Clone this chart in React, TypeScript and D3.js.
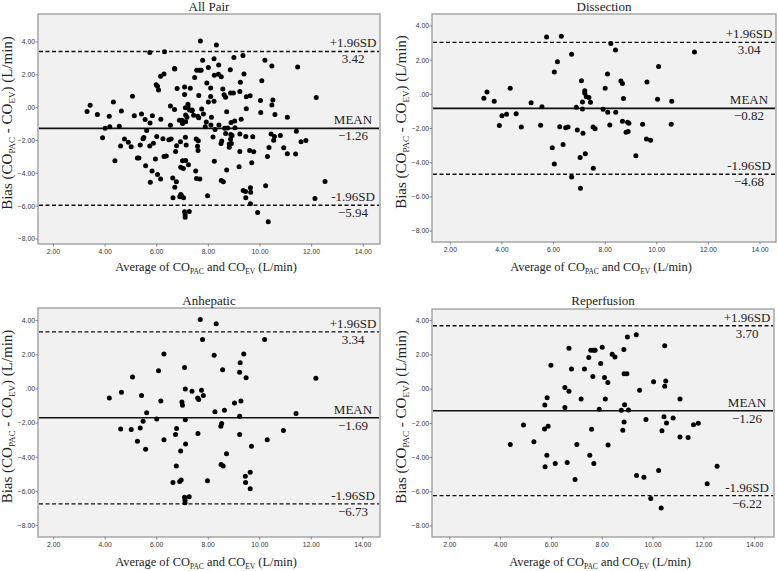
import React from 'react';
import * as d3 from 'd3';

// ---- Data (average CO, bias) ----
const dissection: [number, number][] = [
  [3.30, -0.23], [3.42, 0.14], [3.70, -0.41], [3.90, -1.83], [4.00, -1.25], [4.18, -1.17],
  [4.32, 0.35], [4.55, -1.13], [4.75, -1.91], [5.13, -0.49], [5.50, -1.81], [5.55, -0.72],
  [5.73, 3.35], [5.95, -3.13], [6.03, 1.30], [6.03, -4.07], [6.15, 1.91], [6.24, -1.89],
  [6.30, 3.40], [6.37, -2.94], [6.47, -1.95], [6.56, -1.91], [6.70, 2.35], [6.70, -4.84],
  [6.88, -0.76], [6.92, -2.08], [7.03, -3.70], [7.04, -5.49], [7.08, 0.80], [7.12, -0.45],
  [7.12, -0.86], [7.14, -2.28], [7.21, 0.21], [7.21, 0.06], [7.23, -3.48], [7.27, -0.14],
  [7.37, -0.19], [7.43, -0.47], [7.53, -1.91], [7.54, -4.32], [7.61, -2.02], [7.92, -0.88],
  [8.00, 0.35], [8.09, 1.19], [8.10, -1.05], [8.18, -1.79], [8.22, 2.98], [8.40, 2.59],
  [8.41, -1.05], [8.61, 0.78], [8.67, 0.64], [8.67, -1.58], [8.71, -0.25], [8.81, -2.22],
  [8.87, -1.63], [8.89, -2.18], [8.92, -1.69], [9.19, -3.60], [9.45, -1.75], [9.62, 0.72],
  [9.60, -2.61], [9.76, -2.68], [10.03, -0.29], [10.07, 1.63], [10.58, -0.41], [10.56, -1.75],
  [11.46, 2.47],
];

const anhepatic: [number, number][] = [
  [4.16, -0.53], [4.63, -0.20], [4.60, -2.34], [5.01, -2.38], [5.06, 0.70], [5.25, -3.06],
  [5.36, -2.28], [5.41, -0.39], [5.47, -1.89], [5.57, -3.53], [5.61, -1.39], [6.00, -1.76],
  [6.07, 1.07], [6.16, -0.70], [6.28, 2.05], [6.28, -2.97], [6.63, -5.48], [6.73, -2.67],
  [6.77, -2.32], [6.76, -4.51], [6.89, -5.42], [6.93, -3.63], [6.95, -5.33], [6.98, -0.76],
  [7.00, -0.96], [7.08, 1.25], [7.11, 0.00], [7.11, -1.80], [7.12, -3.22], [7.08, -6.34],
  [7.10, -6.52], [7.10, -6.67], [7.26, -6.32], [7.37, -0.14], [7.59, -0.53], [7.63, -0.62],
  [7.60, -2.61], [7.69, 4.06], [7.74, -0.08], [7.78, 2.89], [7.81, -0.39], [7.97, -5.37],
  [8.23, 1.97], [8.26, -1.33], [8.31, 3.82], [8.49, -2.19], [8.52, -2.03], [8.50, -4.43],
  [8.56, 1.13], [8.58, -4.51], [8.63, -1.25], [8.71, -3.80], [9.02, -0.82], [9.22, -1.60],
  [9.22, -2.67], [9.22, 0.98], [9.24, 1.54], [9.27, -0.70], [9.38, 2.05], [9.44, -5.11],
  [9.45, -5.48], [9.47, 0.66], [9.63, -4.88], [9.63, -5.85], [9.68, -3.36], [10.19, 2.89],
  [10.29, -2.97], [10.92, -2.44], [11.41, -1.44], [12.18, 0.62],
];

const reperfusion: [number, number][] = [
  [4.38, -3.24], [4.90, -2.10], [5.31, -3.07], [5.74, -0.93], [5.73, -2.33], [5.75, -4.54],
  [5.82, -3.86], [5.83, -0.50], [5.87, -2.17], [5.98, 1.40], [6.15, -4.35], [6.53, 0.10],
  [6.53, -1.07], [6.62, -4.29], [6.69, 2.39], [6.69, -0.12], [6.79, 1.17], [6.93, -5.28],
  [7.00, -3.24], [7.17, -0.58], [7.30, 1.18], [7.47, 1.84], [7.51, -3.86], [7.55, 2.27],
  [7.58, -2.35], [7.63, 0.74], [7.66, 2.27], [7.67, -4.35], [7.72, 2.27], [7.88, -1.17],
  [7.94, 1.50], [8.00, 2.45], [8.09, 0.68], [8.12, -0.58], [8.22, 0.39], [8.23, -3.26],
  [8.39, 2.04], [8.50, 1.88], [8.75, -1.24], [8.81, -2.41], [8.85, 2.31], [8.86, 0.89],
  [8.88, -0.91], [8.86, -1.92], [8.97, 0.89], [8.99, 3.05], [9.03, -1.22], [9.34, 3.18],
  [9.35, -5.05], [9.47, -0.06], [9.64, -5.15], [9.72, -1.77], [9.91, -6.39], [10.02, 0.43],
  [10.22, -4.76], [10.35, -2.43], [10.43, -1.61], [10.46, 0.16], [10.46, 2.54], [10.50, 0.47],
  [10.53, -1.98], [10.32, -6.95], [10.79, -1.69], [11.06, -0.58], [11.06, -2.80], [11.38, -2.82],
  [11.59, -2.08], [11.78, -2.00], [12.13, -5.53], [12.52, -4.50],
];

const allPair: [number, number][] = [...dissection, ...anhepatic, ...reperfusion];

const panelTitles = ['All Pair', 'Dissection', 'Anhepatic', 'Reperfusion'];
const panelData = [allPair, dissection, anhepatic, reperfusion];
const upperLimits = [3.42, 3.04, 3.34, 3.70];
const meanBias = [-1.26, -0.82, -1.69, -1.26];
const lowerLimits = [-5.94, -4.68, -6.73, -6.22];

const xTicks = [2, 4, 6, 8, 10, 12, 14];
const yTicks = [4, 2, 0, -2, -4, -6, -8];

// ---- Layout ----
const layout = [
  { left: 38, top: 14, right: 380, bottom: 244, xDom: [1.4, 14.65], yDom: [-8.3, 5.7], titleY: 11, xTitleY: 271 },
  { left: 432, top: 14, right: 776, bottom: 242, xDom: [1.29, 14.62], yDom: [-8.64, 4.7], titleY: 11, xTitleY: 271 },
  { left: 38, top: 308, right: 380, bottom: 537, xDom: [1.39, 14.67], yDom: [-8.67, 4.74], titleY: 305, xTitleY: 566 },
  { left: 432, top: 309, right: 774, bottom: 537, xDom: [1.3, 14.76], yDom: [-8.64, 4.68], titleY: 305, xTitleY: 566 },
];

const SERIF: React.CSSProperties = { fontFamily: "'Liberation Serif', 'Times New Roman', serif" };
const SANS: React.CSSProperties = { fontFamily: "'Liberation Sans', Arial, sans-serif" };
const fmt = (v: number) => (v === 0 ? '.00' : d3.format('.2f')(v));

function Panel({ i }: { i: number }) {
  const L = layout[i];
  const x = d3.scaleLinear().domain(L.xDom).range([L.left, L.right]);
  const y = d3.scaleLinear().domain(L.yDom).range([L.bottom, L.top]);
  const cx = (L.left + L.right) / 2;
  const cy = (L.top + L.bottom) / 2;
  const labelX = L.right - 27;
  const lines = [
    { v: upperLimits[i], name: '+1.96SD', dash: '4,2.5' },
    { v: meanBias[i], name: 'MEAN', dash: null },
    { v: lowerLimits[i], name: '-1.96SD', dash: '4,2.5' },
  ];
  return (
    <g>
      <rect x={L.left} y={L.top} width={L.right - L.left} height={L.bottom - L.top}
        fill="#f1f1f1" stroke="#9a9a9a" strokeWidth={1.3} />
      {yTicks.map((t) => (
        <g key={'y' + t}>
          <line x1={L.left - 2.5} x2={L.left} y1={y(t)} y2={y(t)} stroke="#666" strokeWidth={0.8} />
          <text x={L.left - 3} y={y(t)} dy="0.35em" textAnchor="end" style={SANS} fontSize={6.8} fill="#333">{fmt(t)}</text>
        </g>
      ))}
      {xTicks.map((t) => (
        <g key={'x' + t}>
          <line x1={x(t)} x2={x(t)} y1={L.bottom} y2={L.bottom + 2.5} stroke="#666" strokeWidth={0.8} />
          <text x={x(t)} y={L.bottom + 9.5} textAnchor="middle" style={SANS} fontSize={6.8} fill="#333">{fmt(t)}</text>
        </g>
      ))}
      {lines.map((ln) => (
        <g key={ln.name}>
          <line x1={L.left + 1} x2={L.right - 1} y1={y(ln.v)} y2={y(ln.v)} stroke="#111"
            strokeWidth={ln.dash ? 1.4 : 1.6} strokeDasharray={ln.dash || undefined} />
          <text x={labelX} y={y(ln.v) - 4} textAnchor="middle" style={SERIF} fontSize={13} fill="#222">{ln.name}</text>
          <text x={labelX} y={y(ln.v) + 12} textAnchor="middle" style={SERIF} fontSize={13} fill="#222">{d3.format('.2f')(ln.v)}</text>
        </g>
      ))}
      {panelData[i].map((d, k) => (
        <circle key={k} cx={x(d[0])} cy={y(d[1])} r={2.5} fill="#000" />
      ))}
      <text x={cx} y={L.titleY} textAnchor="middle" style={SERIF} fontSize={13} fill="#222">{panelTitles[i]}</text>
      <text x={cx - 3} y={L.xTitleY} textAnchor="middle" style={SERIF} fontSize={12.4} fill="#222">
        Average of CO<tspan fontSize={7.5} dy={3}>PAC</tspan><tspan dy={-3}> and CO</tspan><tspan fontSize={7.5} dy={3}>EV</tspan><tspan dy={-3}> (L/min)</tspan>
      </text>
      <text transform={`translate(${L.left - 26},${cy - 6}) rotate(-90)`} textAnchor="middle" style={SERIF} fontSize={15} fill="#222">
        Bias (CO<tspan fontSize={9} dy={3}>PAC</tspan><tspan dy={-3}> - CO</tspan><tspan fontSize={9} dy={3}>EV</tspan><tspan dy={-3}>) (L/min)</tspan>
      </text>
    </g>
  );
}

export default function App() {
  return (
    <svg width={778} height={571} style={{ position: 'absolute', left: 0, top: 0, background: '#fff' }}>
      <rect x={0} y={0} width={778} height={571} fill="#fff" />
      {[0, 1, 2, 3].map((i) => <Panel key={i} i={i} />)}
    </svg>
  );
}
